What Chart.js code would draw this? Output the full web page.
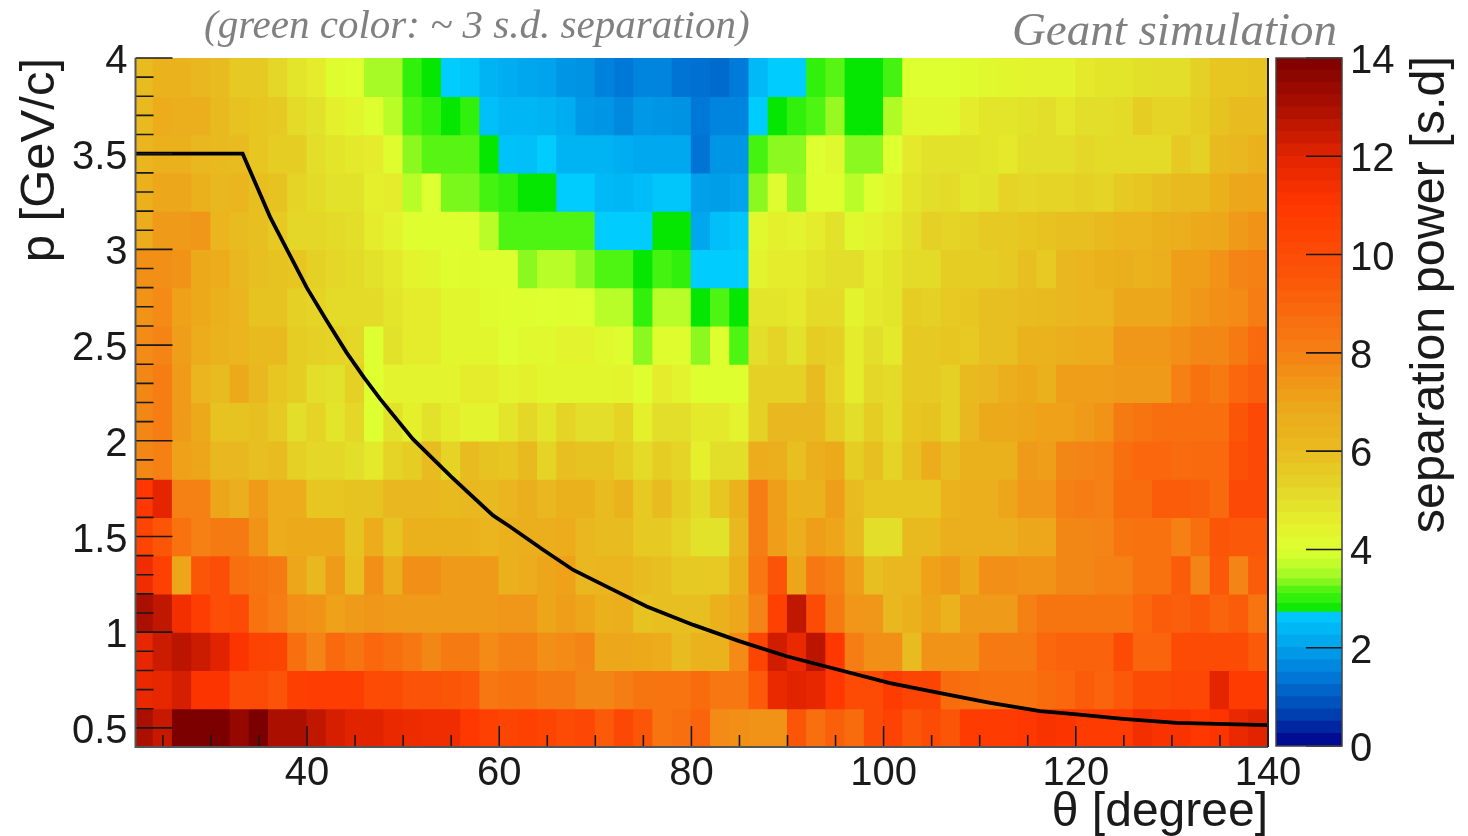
<!DOCTYPE html>
<html>
<head>
<meta charset="utf-8">
<script src="https://cdn.jsdelivr.net/npm/chart.js@4/dist/chart.umd.min.js"></script>
<style>
html,body{margin:0;padding:0;background:#fff;width:1468px;height:836px;overflow:hidden}
#main{position:absolute;left:0;top:0}
#scale{position:absolute;left:1270px;top:0}
</style>
</head>
<body>
<canvas id="main" width="1468" height="836"></canvas>
<canvas id="scale" width="198" height="836"></canvas>
<script>
// theta bin centres, degree
const thetaBins = [23,25,27,29,31,33,35,37,39,41,43,45,47,49,51,53,55,57,59,61,
  63,65,67,69,71,73,75,77,79,81,83,85,87,89,91,93,95,97,99,101,
  103,105,107,109,111,113,115,117,119,121,123,125,127,129,131,133,135,137,139];
// lower edge of each p bin, top row first
const pLow = [3.8,3.6,3.4,3.2,3.0,2.8,2.6,2.4,2.2,2.0,1.8,1.6,1.4,1.2,1.0,0.8,0.6,0.4];

const p38 = [6.0,6.4,6.4,6.2,6.0,5.6,5.6,5.2,4.8,4.6,4.1,4.0,3.5,3.5,3.0,2.75,2.7,2.6,2.3,2.2,
  2.1,2.05,1.85,1.8,1.55,1.4,1.6,1.6,1.35,1.3,1.2,1.45,2.4,2.7,2.7,3.0,3.2,2.75,2.75,3.1,
  4.0,4.0,4.0,4.1,4.2,4.3,4.4,4.4,4.4,4.7,4.8,4.8,4.95,5,5,5.4,5.7,5.7,5.8];
const p36 = [6.1,6.7,6.6,6.6,6.1,5.8,5.7,5.6,5.1,4.9,4.5,4.3,4.05,3.6,3.15,3.0,2.75,3.0,2.5,2.35,
  2.35,2.3,2.2,1.9,1.85,1.65,1.9,1.85,1.8,1.4,1.6,1.6,2.7,2.75,3.0,3.15,3.4,2.75,2.75,3.55,
  4.2,4.2,4.2,4.6,4.8,4.8,4.9,5,4.75,5,5,5.1,5.5,5.3,5.3,5.5,5.8,6.0,6.0];
const p34 = [6.3,6.5,6.5,6.2,6.1,6.0,5.7,5.5,5.5,5.0,4.8,4.7,4.6,4.1,3.35,3.2,3.2,3.2,2.75,2.55,
  2.5,2.7,2.3,2.3,2.3,2.2,2.15,2.15,2.15,1.35,1.85,1.85,3.1,3.35,3.35,4.0,4.2,3.35,3.35,4.0,
  4.7,4.9,4.9,4.9,4.8,4.7,5,5,5,5.2,5.1,5.1,5.1,5.1,5.6,5.4,6.1,6.2,6.5];
const p32 = [6.5,6.9,6.9,6.5,6.2,6.3,5.9,5.8,5.3,5.1,4.9,4.9,4.5,4.6,3.6,4.0,3.3,3.3,3.1,3.0,
  2.75,2.75,2.7,2.7,2.4,2.35,2.45,2.6,2.6,2.0,1.95,2.05,3.35,4.1,3.4,4.05,4.05,3.6,4.05,4.3,
  4.8,5.0,5.1,4.8,4.9,5.3,5.2,5.3,5.3,5.4,5.3,5.6,5.7,5.9,6.1,6.1,6.5,6.9,7.0];
const p30 = [6.7,7.3,7.3,7.4,6.3,6.0,5.9,5.6,5.2,5.2,5.1,5.0,4.6,4.4,4.05,4.05,4.05,4.05,3.6,3.15,
  3.15,3.15,3.15,3.15,2.7,2.7,2.7,2.75,2.75,2.1,2.5,2.6,4.2,4.5,4.4,4.6,4.9,4.2,4.4,4.6,
  5.0,5.4,5.3,5.4,5.6,5.6,5.7,5.8,5.9,5.9,6.1,6.3,6.3,6.5,6.6,6.8,6.9,7.3,7.5];
const p28 = [7.6,7.6,7.5,6.8,6.7,6.2,5.9,5.8,5.7,5.4,5.2,5.1,4.9,4.7,4.4,4.3,4.05,4.1,4.05,4.05,
  3.35,3.6,3.6,3.35,3.15,3.15,2.75,3.1,3.0,2.7,2.7,2.7,4.4,4.6,4.6,4.8,5,5,4.6,4.8,
  5.1,5.1,5.5,5.5,5.5,5.6,5.9,5.6,6.2,6.3,6.5,6.6,6.4,6.6,7.2,7.2,7.5,7.9,8.0];
const p26 = [7.5,7.7,7.1,6.8,6.5,6.3,5.8,5.8,5.4,5.3,5.1,5.1,5.1,4.8,4.6,4.6,4.3,4.3,4.1,4.05,
  4.05,4.0,4.05,4.0,3.6,3.6,3.0,3.6,3.6,2.75,3.15,2.75,4.8,4.8,4.7,5.1,5.1,4.4,4.7,4.8,
  5.5,5.4,5.6,5.7,5.9,5.9,6.0,6.1,6.2,6.3,6.3,6.9,6.9,6.9,7.2,7.4,7.6,7.7,8.1];
const p24 = [7.7,7.9,7.2,6.7,6.4,6.3,6.1,6.1,5.5,5.4,5.3,5.2,4.0,4.9,4.6,4.6,4.3,4.3,4.3,4.05,
  4.2,4.2,4.4,4.4,4.2,4.1,3.35,4.1,4.1,3.35,4.05,3.15,5.0,5.3,4.9,5.5,5.4,4.6,5.0,4.7,
  5.6,5.6,5.7,5.6,5.9,5.9,6.4,6.4,6.6,6.7,6.7,7.4,7.4,7.4,7.6,7.8,7.8,8.2,8.8];
const p22 = [7.8,8.1,7.3,6.3,6.0,6.8,6.2,5.7,5.5,5.0,4.9,5.4,4.0,4.4,4.4,4.4,4.4,4.6,4.6,4.4,
  4.5,4.3,4.3,4.3,4.3,4.4,4.05,4.6,4.4,4.05,4.05,4.05,5.4,5.4,5.4,6.0,5.3,4.6,5.2,5.1,
  5.6,5.6,5.4,6.1,6.2,6.6,6.8,6.5,7.2,7.2,7.2,7.3,7.3,7.3,8.0,8.5,8.2,8.9,9.2];
const p20 = [7.8,8.1,7.3,6.8,5.8,5.8,5.9,5.6,5.0,5.3,4.8,5.2,4.0,4.9,4.5,4.9,4.6,4.4,4.4,4.8,
  5.2,4.8,5.3,5.0,5.0,5.3,4.5,5.0,5.0,4.7,4.7,4.4,5.4,6.2,6.2,6.2,5.5,5.0,5.5,5.1,
  5.7,5.8,5.4,6.2,6.8,6.8,7.0,7.1,7.1,7.3,7.5,8.2,8.4,8.6,8.6,8.6,8.6,9.6,10.1];
const p18 = [7.8,8.0,7.1,7.0,6.2,6.2,5.9,6.0,5.4,5.2,5.2,5.0,4.7,5.3,5.5,6.0,5.3,6.0,5.8,5.7,
  6.1,5.3,5.9,5.8,5.8,5.5,5.1,5.5,5.3,4.5,5.0,5.0,6.7,6.6,5.9,6.6,6.8,5.5,5.9,5.3,
  5.9,6.7,6.0,6.5,6.5,6.5,7.3,7.2,7.8,7.9,8.0,8.6,8.9,8.9,8.7,8.8,8.8,9.8,10.1];
const p16 = [11.0,11.9,8.0,8.0,7.0,6.6,7.3,6.7,6.7,5.7,5.7,5.8,5.8,6.2,6.2,6.2,6.1,6.2,6.1,6.3,
  6.6,6.2,6.5,6.5,6.0,6.4,5.6,6.0,5.5,5.1,5.7,6.4,8.1,7.2,6.4,6.4,7.2,6.0,5.7,5.7,
  5.7,5.7,6.4,6.6,6.6,7.0,7.4,7.4,8.0,8.1,8.0,8.7,8.7,9.3,9.3,9.2,8.8,10.1,10.1];
const p14 = [10.3,9.6,8.5,8.0,8.2,8.2,7.5,6.7,6.8,6.8,6.8,5.8,6.7,5.8,6.5,6.5,6.5,6.5,6.3,6.5,
  6.6,6.6,6.7,6.2,6.0,6.0,5.6,5.6,5.3,4.9,4.9,6.2,8.1,7.2,6.6,7.2,7.0,6.1,5.0,5.0,
  6.1,6.1,6.6,6.6,6.6,6.6,6.9,6.9,7.8,7.8,7.9,8.4,8.5,8.5,8.0,8.6,9.6,9.5,9.5];
const p12 = [11.5,10.5,7.0,9.6,9.9,8.6,8.4,8.2,7.0,6.2,7.3,5.9,7.6,6.6,7.6,7.6,7.3,7.3,7.3,6.5,
  6.7,7.0,7.1,6.2,6.3,6.3,6.0,5.9,5.6,5.6,5.6,6.5,8.3,9.7,7.0,8.3,8.0,7.2,5.9,6.2,
  6.2,7.1,7.3,6.8,7.6,7.6,7.5,7.5,7.8,7.8,8.0,8.0,8.5,8.5,9.3,7.9,9.5,7.9,9.3];
const p10 = [13.0,12.6,11.4,10.7,9.9,10.0,8.5,8.1,7.6,7.5,7.1,7.3,7.4,7.3,7.3,7.3,7.3,7.3,7.3,7.4,
  7.4,7.0,7.2,7.0,6.5,6.6,5.8,5.9,5.9,5.9,6.5,6.9,7.9,10.5,12.6,10.0,8.2,7.4,7.4,6.2,
  6.5,7.0,6.4,7.3,7.3,7.3,8.0,8.4,8.4,8.4,8.4,8.4,8.9,9.3,9.2,9.5,9.0,9.3,8.4];
const p08 = [11.8,12.4,12.7,12.4,12.0,11.1,10.4,10.3,8.6,7.9,8.8,8.4,8.9,8.6,8.3,7.8,8.2,8.2,7.7,8.0,
  8.0,7.6,7.7,7.9,6.9,6.9,6.8,6.7,6.0,6.4,6.4,7.7,10.3,12.3,11.7,12.7,11.0,8.1,7.6,7.6,
  6.0,7.5,7.5,7.5,8.2,8.2,8.2,8.9,9.1,9.1,9.1,10.0,9.0,9.0,10.0,10.0,10.0,10.0,9.4];
const p06 = [11.7,11.8,12.2,11.1,11.1,10.0,10.0,9.7,10.6,10.7,10.7,10.7,10.0,10.0,9.7,9.7,9.6,9.5,8.3,8.5,
  8.5,8.2,8.2,7.8,7.8,8.1,8.4,8.4,8.4,8.7,8.3,8.3,9.4,11.7,12.0,11.8,11.0,10.0,10.0,10.8,
  10.3,10.3,8.7,8.6,8.5,8.5,8.5,8.7,8.9,9.3,9.0,9.5,10.0,10.0,10.2,10.2,11.9,10.8,10.8];
const p04 = [13.0,12.5,14,14,14,13.5,14,13.0,13.0,12.6,12.2,12.0,12.0,11.7,11.6,11.5,11.5,11.0,10.5,10.3,
  10.5,10.3,10.0,10.2,9.4,10.2,9.6,8.4,8.6,9.0,7.7,7.6,7.5,7.5,9.6,8.6,9.2,8.7,10.0,10.4,
  9.6,10.0,9.6,10.8,10.8,10.8,11.0,11.2,11.1,10.8,10.8,10.8,11.4,11.2,11.2,11.0,11.1,11.7,12.0];
const heatRows = [p38,p36,p34,p32,p30,p28,p26,p24,p22,p20,p18,p16,p14,p12,p10,p08,p06,p04];

// black threshold curve
const curveTheta = [22,33.3,34.77,36.15,37.9,39.97,42.05,44.1,45.9,47.6,51,55.05,59.35,61.1,64.6,67.7,71.5,75.35,80.2,85.05,89.9,93.9,100.66,105.9,111.1,116.3,120.1,124.9,130.5,140];
const curveP = [3.5,3.5,3.33,3.17,3.0,2.8,2.627,2.462,2.333,2.219,2.01,1.81,1.61,1.552,1.429,1.325,1.23,1.134,1.038,0.952,0.874,0.822,0.734,0.682,0.63,0.587,0.57,0.547,0.526,0.514];

// tick labels
const thetaTicks = [40,60,80,100,120,140];
const pTicks = [0.5,1,1.5,2,2.5,3,3.5,4];
const scaleTicks = [0,2,4,6,8,10,12,14];

// colour palette of the z axis
const paletteV = [0,0.7,1.4,2,2.72, 2.72,3.0,3.2,3.37,3.6,4.0,4.5,5,5.5,6,7,8,9,10,11,12,13,14];
const paletteC = [[0,0,139],[0,70,180],[0,120,215],[0,160,235],[0,205,255],
  [0,230,0],[48,240,12],[88,245,20],[146,248,32],[184,252,40],[222,255,48],[228,240,44],[227,222,42],
  [230,205,36],[232,188,32],[237,165,26],[245,128,20],[250,100,12],[252,75,5],[255,55,0],[225,35,0],[170,15,0],[125,0,0]];
// band edges of the colour bar
const bandEdges = [0,0.25,0.5,0.75,1,1.25,1.5,1.75,2,2.25,2.5,2.72,2.9,3.1,3.25,3.4,3.6,3.8,4,4.25,4.5,4.75,5,5.25,5.5,5.75,6,6.25,6.5,6.75,7,7.25,7.5,7.75,8,8.25,8.5,8.75,9,9.25,9.5,9.75,10,10.25,10.5,10.75,11,11.25,11.5,11.75,12,12.25,12.5,12.75,13,13.25,13.5,13.75,14];

function color(v){
  for(let i=0;i<paletteV.length-1;i++){
    if(v>=paletteV[i] && v<paletteV[i+1]){
      const t=(v-paletteV[i])/(paletteV[i+1]-paletteV[i]);
      const a=paletteC[i],b=paletteC[i+1];
      return 'rgb('+a.map((c,k)=>Math.round(c+(b[k]-c)*t)).join(',')+')';
    }
  }
  const e=paletteC[paletteC.length-1];
  return 'rgb('+e.join(',')+')';
}

const FONT='"Liberation Sans", Arial, sans-serif';
const SERIF='"Liberation Serif", serif';
const INK='#1a1a1a';

const heatDatasets = heatRows.map((row,r)=>({
  type:'bar',
  label:'p '+pLow[r],
  data:row.map((v,i)=>({x:thetaBins[i],y:[pLow[r],pLow[r]+0.2]})),
  backgroundColor:row.map(color),
  borderWidth:0,
  inflateAmount:0.6,
  barPercentage:1,
  categoryPercentage:1,
  order:2
}));
const curveDataset = {
  type:'scatter',
  label:'limit',
  data:curveTheta.map((t,i)=>({x:t,y:curveP[i]})),
  showLine:true,
  borderColor:'#000',
  borderWidth:3.8,
  pointRadius:0,
  tension:0,
  order:0
};

const frameAndTicks = {
  id:'frameAndTicks',
  afterDatasetsDraw(chart){
    const {ctx,chartArea:a,scales:{x,y}}=chart;
    ctx.save();
    ctx.strokeStyle=INK;
    ctx.lineWidth=1.6;
    ctx.beginPath();
    for(let v=0.4;v<=4.001;v+=0.1){
      const yy=y.getPixelForValue(v);
      const major=Math.abs(v*2-Math.round(v*2))<1e-6;
      ctx.moveTo(a.left,yy);ctx.lineTo(a.left+(major?37:18),yy);
    }
    for(let t=25;t<=140;t+=5){
      const xx=x.getPixelForValue(t);
      const major=t%20===0;
      ctx.moveTo(xx,a.bottom);ctx.lineTo(xx,a.bottom-(major?21:12));
    }
    ctx.stroke();
    ctx.strokeStyle='#555';
    ctx.lineWidth=2;
    ctx.beginPath();
    ctx.moveTo(a.left,a.top);ctx.lineTo(a.left,a.bottom);ctx.lineTo(a.right,a.bottom);
    ctx.stroke();
    ctx.strokeStyle='#222';
    ctx.beginPath();
    ctx.moveTo(a.right,a.top);ctx.lineTo(a.right,a.bottom);
    ctx.stroke();
    ctx.restore();
  },
  afterDraw(chart){
    const {ctx}=chart;
    ctx.save();
    ctx.fillStyle='#808080';
    ctx.textBaseline='alphabetic';
    ctx.textAlign='left';
    ctx.font='italic 41px '+SERIF;
    ctx.fillText('(green color: ~ 3 s.d. separation)',204,38);
    ctx.textAlign='right';
    ctx.font='italic 47px '+SERIF;
    ctx.fillText('Geant simulation',1337,45);
    ctx.restore();
  }
};

new Chart(document.getElementById('main'),{
  type:'bar',
  data:{datasets:[...heatDatasets,curveDataset]},
  options:{
    responsive:false,animation:false,
    events:[],
    layout:{padding:{left:0,right:200,top:58,bottom:0}},
    plugins:{legend:{display:false},tooltip:{enabled:false}},
    scales:{
      x:{
        type:'linear',min:22.15,max:140,stacked:true,offset:false,
        grid:{display:false,offset:false,drawTicks:false},border:{display:false},
        afterBuildTicks(s){s.ticks=thetaTicks.map(v=>({value:v}));},
        afterFit(s){s.height=89;},
        ticks:{color:INK,font:{family:FONT,size:40},padding:3,autoSkip:false,maxRotation:0,callback:v=>String(v)},
        title:{display:true,text:'θ [degree]',align:'end',color:INK,font:{family:FONT,size:48},padding:{top:0,bottom:-6}}
      },
      y:{
        type:'linear',min:0.4,max:4,
        grid:{display:false,drawTicks:false},border:{display:false},
        afterBuildTicks(s){s.ticks=pTicks.map(v=>({value:v}));},
        afterFit(s){s.width=135.5;},
        ticks:{color:INK,font:{family:FONT,size:40},padding:8,labelOffset:4,autoSkip:false,callback:v=>String(v)},
        title:{display:true,text:'p [GeV/c]',align:'end',color:INK,font:{family:FONT,size:49},padding:{top:11,bottom:0}}
      }
    }
  },
  plugins:[frameAndTicks]
});

// colour bar
const bandDatasets = bandEdges.slice(0,-1).map((lo,i)=>({
  label:'z '+lo,
  data:[[lo,bandEdges[i+1]]],
  backgroundColor:color((lo+bandEdges[i+1])/2),
  borderWidth:0,
  inflateAmount:0.6,
  barPercentage:1,
  categoryPercentage:1
}));
const barDecor = {
  id:'barDecor',
  afterDatasetsDraw(chart){
    const {ctx,chartArea:a,scales:{y}}=chart;
    ctx.save();
    ctx.strokeStyle=INK;
    ctx.lineWidth=1.6;
    ctx.beginPath();
    scaleTicks.forEach(v=>{
      const yy=y.getPixelForValue(v);
      ctx.moveTo(a.right,yy);ctx.lineTo(a.right-36,yy);
    });
    ctx.stroke();
    ctx.strokeStyle='#444';
    ctx.lineWidth=1.5;
    ctx.strokeRect(a.left,a.top,a.right-a.left,a.bottom-a.top);
    ctx.restore();
  },
  afterDraw(chart){
    const {ctx,chartArea:a}=chart;
    ctx.save();
    ctx.translate(1444-1270,a.top-2);
    ctx.rotate(-Math.PI/2);
    ctx.fillStyle=INK;
    ctx.font='48.5px '+FONT;
    ctx.textAlign='right';
    ctx.textBaseline='alphabetic';
    ctx.fillText('separation power [s.d]',0,0);
    ctx.restore();
  }
};
new Chart(document.getElementById('scale'),{
  type:'bar',
  data:{labels:['z'],datasets:bandDatasets},
  options:{
    responsive:false,animation:false,
    events:[],
    layout:{padding:{left:6,right:0,top:58,bottom:90}},
    plugins:{legend:{display:false},tooltip:{enabled:false}},
    scales:{
      x:{stacked:true,display:false,offset:true},
      y:{
        position:'right',type:'linear',min:0,max:14,
        grid:{display:false,drawTicks:false},border:{display:false},
        afterBuildTicks(s){s.ticks=scaleTicks.map(v=>({value:v}));},
        afterFit(s){s.width=126;},
        ticks:{color:INK,font:{family:FONT,size:40},padding:8,labelOffset:4,autoSkip:false,callback:v=>String(v)}
      }
    }
  },
  plugins:[barDecor]
});
</script>
</body>
</html>
